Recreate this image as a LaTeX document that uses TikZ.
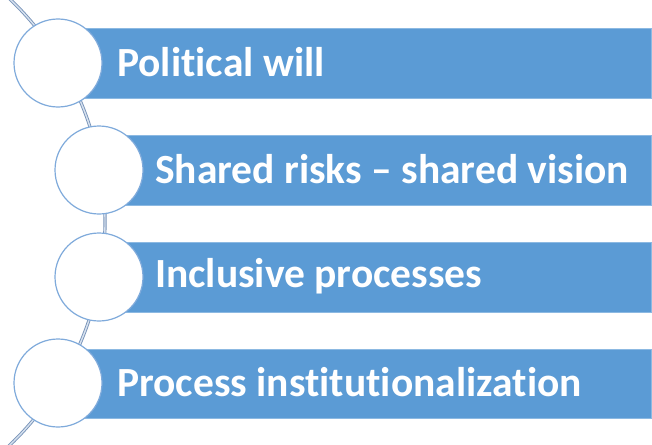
\documentclass[tikz,border=0pt]{standalone}
\usepackage{fontspec}
\setmainfont[Ligatures={NoCommon,NoRare}]{Carlito}
\definecolor{barblue}{HTML}{5B9BD5}
\definecolor{ringblue}{HTML}{7FAADB}
\definecolor{railedge}{HTML}{7893B8}
\definecolor{railmid}{HTML}{D6E1EF}
\begin{document}
\begin{tikzpicture}[x=1pt,y=-1pt,
  bar/.style={fill=barblue,draw=barblue!70!white,line width=0.6pt},
  ring/.style={circle,fill=white,draw=ringblue,line width=1.2pt,minimum size=88pt,inner sep=0pt},
  label/.style={anchor=west,text=white,font=\bfseries\fontsize{41.5}{41.5}\selectfont,inner sep=0pt},
  rail/.style={draw=railedge,double=railmid,double distance=1.4pt,line width=0.9pt}]
\useasboundingbox (0,0) rectangle (652,444);
\begin{scope}
\clip (0,0) rectangle (652,444);
% curved rail running behind the circles
\draw[rail] (-204,222) ++(48:309) arc[start angle=48,end angle=-48,radius=309];
\end{scope}
% bars
\path[bar] (58,28) rectangle (651,98);
\path[bar] (99,135) rectangle (651,205);
\path[bar] (99,242) rectangle (651,312);
\path[bar] (58,349) rectangle (651,418);
% circles
\node[ring] (c1) at (58,63) {};
\node[ring] (c2) at (99,170) {};
\node[ring] (c3) at (99,277) {};
\node[ring] (c4) at (58,383) {};
% texts
\node[label] (t1) at (117,62) {Political will};
\node[label] (t2) at (155,169) {Shared risks – shared vision};
\node[label] (t3) at (155,276) {Inclusive processes};
\node[label] (t4) at (117,382) {Process institutionalization};
\end{tikzpicture}
\end{document}
